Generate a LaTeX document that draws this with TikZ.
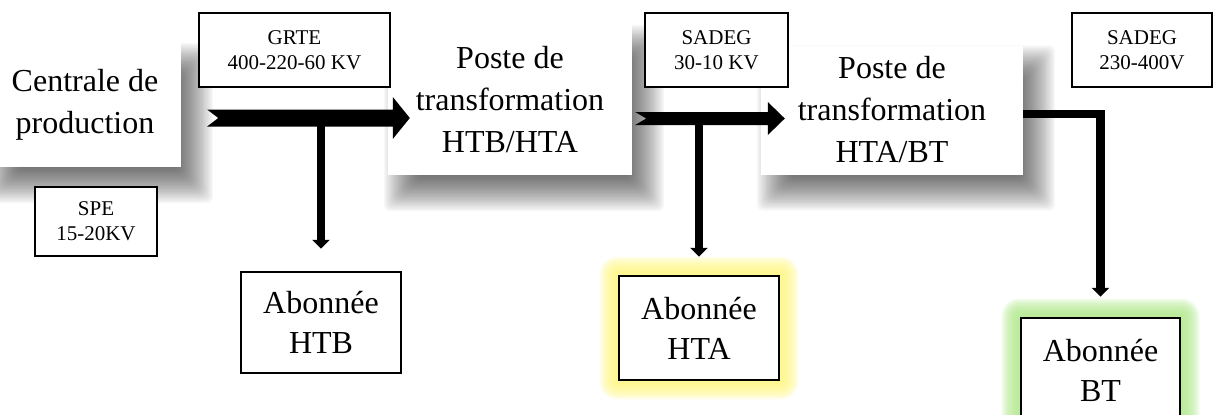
\documentclass[tikz,border=0pt]{standalone}
\usepackage{fontspec}
\setmainfont{Liberation Serif}
\usetikzlibrary{arrows.meta, calc, backgrounds}

\definecolor{glowyellow}{RGB}{255,246,130}
\definecolor{glowgreen}{RGB}{176,232,140}

% thick feed arrow with notched tail: tail, tip, half body, half head
\newcommand{\feedarrow}[4]{%
  \fill let \p1=(#1), \p2=(#2) in
    (\x1,\y1+#3) -- (\x2-17pt,\y1+#3) -- (\x2-17pt,\y1+#4) -- (\x2,\y1)
    -- (\x2-17pt,\y1-#4) -- (\x2-17pt,\y1-#3) -- (\x1,\y1-#3) -- (\x1+11pt,\y1) -- cycle;}

% blurred drop shadow behind a node
\newcommand{\dropshadow}[1]{%
  \foreach \k in {0,...,29}{
    \pgfmathsetmacro\e{18-1.3*\k}
    \pgfmathsetmacro\xlo{14-\e}
    \pgfmathsetmacro\xhi{14+\e}
    \pgfmathsetmacro\ylo{-18-\e}
    \pgfmathsetmacro\yhi{-18+\e}
    \fill[black, opacity=0.026, rounded corners=6pt]
      ([xshift=\xlo pt, yshift=\ylo pt]#1.south west) rectangle
      ([xshift=\xhi pt, yshift=\yhi pt]#1.north east);}}

% coloured glow round a node
\newcommand{\softglow}[2]{%
  \foreach \k in {0,...,8}{
    \pgfmathsetmacro\e{18-2*\k}
    \fill[#2, opacity=0.2, rounded corners=\e pt]
      ([xshift=-\e pt, yshift=-\e pt]#1.south west) rectangle
      ([xshift=\e pt, yshift=\e pt]#1.north east);}}

\begin{document}
\begin{tikzpicture}[x=1pt, y=-1pt,
  bigtext/.style={align=center, font=\fontsize{32}{42}\selectfont},
  tagbox/.style={draw, line width=1.2pt, fill=white, align=center, inner sep=0pt, font=\fontsize{21}{25}\selectfont},
  stationbox/.style={bigtext, fill=white, inner sep=0pt},
  clientbox/.style={bigtext, draw, line width=2.5pt, fill=white, inner sep=0pt, font=\fontsize{32}{40}\selectfont},
  droparrow/.style={line width=8pt, -{Triangle[width=17pt, length=9pt]}}]
  \useasboundingbox (0,0) rectangle (1213,415);

  % stations
  \node[stationbox, minimum width=192pt, minimum height=124pt] (centrale) at (85,105) {Centrale de\\production};
  \node[stationbox, minimum width=244pt, minimum height=150pt] (posteA) at (510,100) {Poste de\\transformation\\HTB/HTA};
  \node[stationbox, minimum width=262pt, minimum height=129pt] (posteB) at (892,110) {Poste de\\transformation\\HTA/BT};

  % operators and voltages
  \node[tagbox, minimum width=191pt, minimum height=74pt] (grte) at (294.5,50) {GRTE\\400-220-60 KV};
  \node[tagbox, minimum width=122pt, minimum height=69pt] (spe) at (96,221.5) {SPE\\15-20KV};
  \node[tagbox, minimum width=143pt, minimum height=74pt] (sadegA) at (716.5,50) {SADEG\\30-10 KV};
  \node[tagbox, minimum width=140pt, minimum height=74pt] (sadegB) at (1142,50) {SADEG\\230-400V};

  % subscribers
  \node[clientbox, minimum width=160pt, minimum height=101pt] (htb) at (321,322.5) {Abonnée\\HTB};
  \node[clientbox, minimum width=160pt, minimum height=104pt] (hta) at (699,328) {Abonnée\\HTA};
  \node[clientbox, minimum width=159pt, minimum height=104pt] (bt) at (1100.5,370) {Abonnée\\BT};

  \begin{scope}[on background layer]
    \dropshadow{centrale}
    \dropshadow{posteA}
    \dropshadow{posteB}
    \softglow{hta}{glowyellow}
    \softglow{bt}{glowgreen}
  \end{scope}

  % main feed
  \coordinate (feedA) at ($(centrale.east)+(26,13)$);
  \coordinate (feedB) at ($(posteA.west)+(22,18)$);
  \coordinate (feedC) at ($(posteA.east)+(3,18.5)$);
  \coordinate (feedD) at ($(posteB.west)+(24,8.5)$);
  \feedarrow{feedA}{feedB}{8.5pt}{21pt}
  \feedarrow{feedC}{feedD}{6.5pt}{16.5pt}

  % taps to subscribers
  \draw[droparrow] (htb.north |- feedA) -- ([yshift=22pt]htb.north);
  \draw[droparrow] (hta.north |- feedC) -- ([yshift=18pt]hta.north);
  \draw[droparrow, line width=8.5pt] ([yshift=-4pt]posteB.east) -| ([yshift=20pt]bt.north);
\end{tikzpicture}
\end{document}
